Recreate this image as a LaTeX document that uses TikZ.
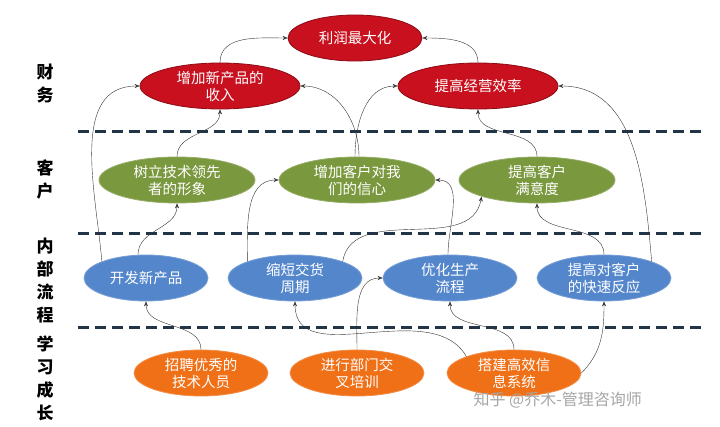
\documentclass[tikz,border=0pt]{standalone}
\usepackage{fontspec}
\setmainfont{Noto Sans CJK SC}
\usetikzlibrary{positioning,shapes.geometric,arrows.meta}
\definecolor{finred}{RGB}{200,16,30}
\definecolor{cusgreen}{RGB}{122,152,62}
\definecolor{procblue}{RGB}{84,134,204}
\definecolor{learnorange}{RGB}{240,112,24}
\definecolor{lanenavy}{RGB}{34,52,72}

\begin{document}
\begin{tikzpicture}
            [%%%%%%%%%%%%%%%%%%%%%%%%%%%%%%%%%%%%%%%%%%%%%%%%%%%%%%%%%%
                x=1pt,y=-1pt,>={Stealth[length=5pt,width=4pt]},
                goal/.style={ellipse,thick,text=white,inner sep=0pt,
                             minimum width=134pt,minimum height=46pt,
                             align=center,font=\fontsize{14.5}{17}\selectfont},
                fin/.style={goal,fill=finred,draw=finred!70!black},
                cus/.style={goal,fill=cusgreen,draw=cusgreen!80!white},
                proc/.style={goal,fill=procblue,draw=procblue!80!white},
                learn/.style={goal,fill=learnorange,draw=learnorange!80!white},
                lane/.style={draw=lanenavy,line width=3pt,dash pattern=on 11pt off 6pt},
                side/.style={align=center,font=\fontsize{17}{23}\selectfont\bfseries},
                link/.style={->,thin,black!80}
            ]%%%%%%%%%%%%%%%%%%%%%%%%%%%%%%%%%%%%%%%%%%%%%%%%%%%%%%%%%%
            \useasboundingbox (0,0) rectangle (720,427);
            \fill[white] (0,0) rectangle (720,427);

            \draw[lane] (78,132) -- (705,132);
            \draw[lane] (78,234) -- (705,234);
            \draw[lane] (78,328) -- (705,328);

            \node[side] (finlbl)   at (45,84)  {财\\务};
            \node[side] (cuslbl)   at (45,179) {客\\户};
            \node[side] (proclbl)  at (45,281) {内\\部\\流\\程};
            \node[side] (learnlbl) at (45,378) {学\\习\\成\\长};

            \node[fin] (profit) at (355,38) {利润最大化};
            \node[fin,minimum width=160pt] (newrev) at (220,86) {增加新产品的\\收入};
            \node[fin,minimum width=160pt] (eff)    at (478,86) {提高经营效率};

            \node[cus,minimum width=156pt] (tech)  at (177,180) {树立技术领先\\者的形象};
            \node[cus,minimum width=156pt] (trust) at (357,180) {增加客户对我\\们的信心};
            \node[cus,minimum width=156pt] (sat)   at (537,180) {提高客户\\满意度};

            \node[proc,minimum width=124pt] (dev)  at (146,278) {开发新产品};
            \node[proc] (ship) at (295,278) {缩短交货\\周期};
            \node[proc] (opt)  at (450,278) {优化生产\\流程};
            \node[proc] (fast) at (604,278) {提高对客户\\的快速反应};

            \node[learn] (hire)  at (201,373) {招聘优秀的\\技术人员};
            \node[learn] (train) at (357,373) {进行部门交\\叉培训};
            \node[learn] (info)  at (514,373) {搭建高效信\\息系统};

            \draw [link] (newrev.north) to [out=90,in=180] (profit.west);
            \draw [link] (eff.north) to [out=90,in=0] (profit.east);
            \draw [link] (dev.north west) to [out=95,in=180] (newrev.west);
            \draw [link] (tech.north) to [out=90,in=-90] (newrev.south);
            \draw [link] ([xshift=2pt]trust.north) to [out=90,in=0] (newrev.east);
            \draw [link] ([xshift=-2pt]trust.north) to [out=90,in=180] (eff.west);
            \draw [link] (sat.north) to [out=90,in=-90] (eff.south);
            \draw [link] (fast.north east) to [out=95,in=0] (eff.east);

            \draw [link] ([xshift=-8pt]dev.north) to [out=90,in=-90] (tech.south);
            \draw [link] (ship.north west) to [out=90,in=180] (trust.west);
            \draw [link] (ship.north east) to [out=80,in=-100] (sat.south west);
            \draw [link] ([xshift=-2pt]opt.north) to [out=90,in=0] (trust.east);
            \draw [link] (fast.north) to [out=90,in=-90] (sat.south);

            \draw [link] (hire.north) to [out=90,in=-90] (dev.south);
            \draw [link] (train.north) to [out=90,in=180] (opt.west);
            \draw [link] (info.north west) to [out=120,in=-90] (ship.south);
            \draw [link] (info.north) to [out=90,in=-90] (opt.south);
            \draw [link] (info.east) to [out=45,in=-90] (fast.south);

            \node[text=black!35,font=\fontsize{16}{18}\selectfont,anchor=west] (mark) at (470,400) {知乎 @乔木-管理咨询师};
        \end{tikzpicture}
\end{document}
